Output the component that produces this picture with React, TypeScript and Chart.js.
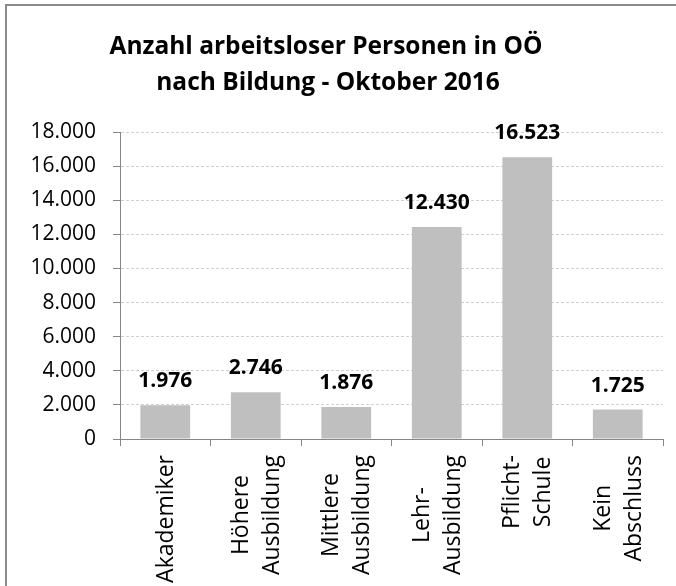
import React, { useEffect, useRef } from "react";
import { Chart, registerables } from "chart.js";

Chart.register(...registerables);

const titleLines = ["Anzahl arbeitsloser Personen in OÖ", "nach Bildung - Oktober 2016"];
const categories = [
  ["Akademiker"],
  ["Höhere", "Ausbildung"],
  ["Mittlere", "Ausbildung"],
  ["Lehr-", "Ausbildung"],
  ["Pflicht-", "Schule"],
  ["Kein", "Abschluss"],
];
const values = [1976, 2746, 1876, 12430, 16523, 1725];
const yTickLabels = ["0", "2.000", "4.000", "6.000", "8.000", "10.000", "12.000", "14.000", "16.000", "18.000"];

const FONT = "'Open Sans', 'Noto Sans', sans-serif";

const fmt = (v: number) => String(v).replace(/\B(?=(\d{3})+(?!\d))/g, ".");

const decorPlugin = {
  id: "decor",
  afterDraw(chart: any) {
    const ctx = chart.ctx;
    // title
    ctx.save();
    ctx.fillStyle = "#000";
    ctx.font = `bold 24.5px ${FONT}`;
    ctx.textAlign = "center";
    ctx.textBaseline = "middle";
    ctx.fillText(titleLines[0], 326, 47);
    ctx.fillText(titleLines[1], 328, 83);
    ctx.restore();

    // value labels
    const meta = chart.getDatasetMeta(0);
    ctx.save();
    ctx.fillStyle = "#000";
    ctx.font = `bold 21px ${FONT}`;
    ctx.textAlign = "center";
    ctx.textBaseline = "alphabetic";
    meta.data.forEach((bar: any, i: number) => {
      ctx.fillText(fmt(values[i]), bar.x, bar.y - 18);
    });
    ctx.restore();

    // category labels (rotated, centred lines)
    const xs = chart.scales.x;
    ctx.save();
    ctx.fillStyle = "#000";
    ctx.font = `23px ${FONT}`;
    const lineGap = 31;
    categories.forEach((lines, i) => {
      const cx = xs.getPixelForValue(i) + 1;
      const maxLen = Math.max(...lines.map((l) => ctx.measureText(l).width));
      const cy = xs.top + 16 + maxLen / 2;
      lines.forEach((line, j) => {
        const dx = (j - (lines.length - 1) / 2) * lineGap;
        ctx.save();
        ctx.translate(cx + dx, cy);
        ctx.rotate(-Math.PI / 2);
        ctx.textAlign = "center";
        ctx.textBaseline = "middle";
        ctx.fillText(line, 0, 0);
        ctx.restore();
      });
    });
    ctx.restore();
  },
};

export default function App() {
  const ref = useRef<HTMLCanvasElement>(null);
  useEffect(() => {
    const chart = new Chart(ref.current as HTMLCanvasElement, {
      type: "bar",
      data: {
        labels: categories.map((c) => c.join(" ")),
        datasets: [
          {
            data: values,
            backgroundColor: "#bfbfbf",
            borderWidth: 0,
            barPercentage: 0.55,
            categoryPercentage: 1,
          },
        ],
      },
      options: {
        responsive: false,
        animation: false,
        layout: { padding: { left: 0, top: 132, right: 13, bottom: 0 } },
        plugins: { legend: { display: false }, title: { display: false }, tooltip: { enabled: false } },
        scales: {
          x: {
            grid: {
              offset: true,
              drawOnChartArea: false,
              tickLength: 7,
              color: "#868686",
              tickColor: "#868686",
            },
            border: { color: "#868686", width: 1 },
            ticks: { display: false },
            afterFit: (s: any) => {
              s.height = 147;
            },
          },
          y: {
            min: 0,
            max: 18000,
            ticks: {
              stepSize: 2000,
              padding: 17,
              color: "#000",
              font: { family: FONT, size: 21 },
              callback: (_v: any, i: number) => yTickLabels[i],
            },
            grid: {
              color: "#d0d0d0",
              tickColor: "#868686",
              tickLength: 7,
              tickBorderDash: [],
            },
            border: { color: "#868686", width: 1, dash: [3, 2] },
            afterFit: (s: any) => {
              s.width = 120;
            },
          },
        },
      },
      plugins: [decorPlugin],
    });
    return () => chart.destroy();
  }, []);
  return (
    <div style={{ position: "fixed", left: 0, top: 0, width: 676, height: 586, background: "#fff", overflow: "hidden" }}>
      <div
        style={{
          position: "absolute",
          left: 5,
          top: 4,
          width: 700,
          height: 600,
          borderLeft: "2px solid #8a8a8a",
          borderTop: "2px solid #8a8a8a",
        }}
      />
      <canvas ref={ref} width={676} height={586} style={{ position: "absolute", left: 0, top: 0 }} />
    </div>
  );
}
